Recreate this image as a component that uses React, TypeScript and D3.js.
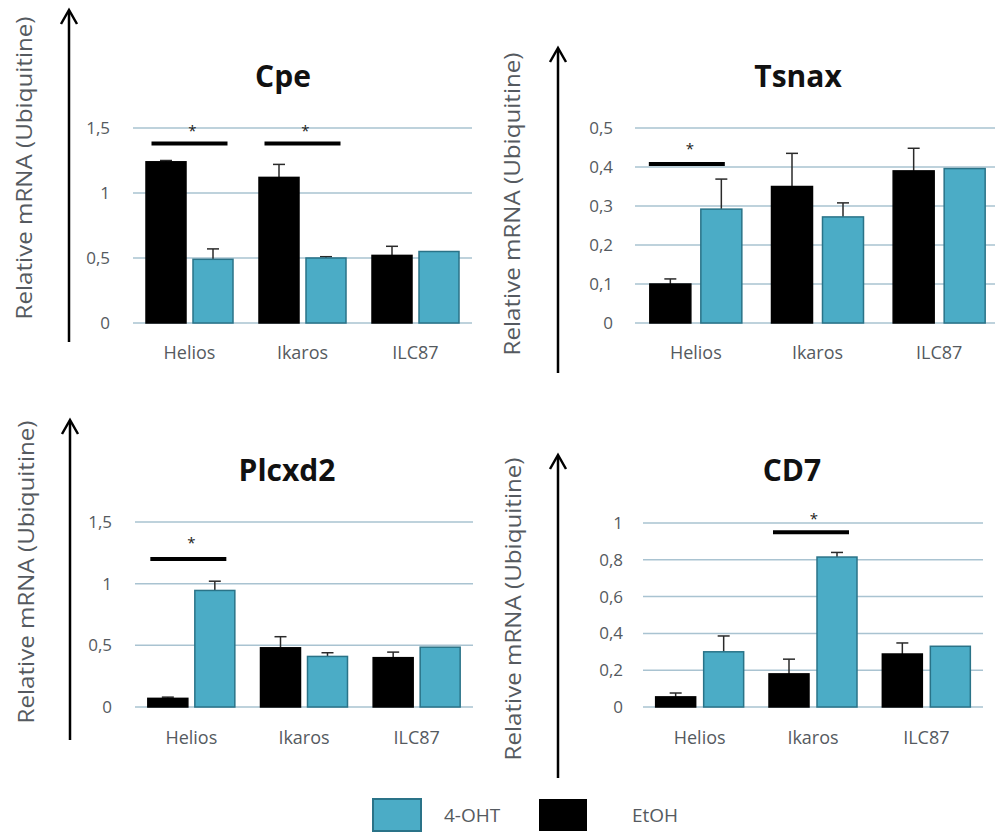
import React from "react";
import * as d3 from "d3";

// ---------- data ----------
const categories = ["Helios", "Ikaros", "ILC87"];
const legendNames = ["4-OHT", "EtOH"];

const cpeEtOH = [1.24, 1.12, 0.52];
const cpeEtOHErr = [0.01, 0.1, 0.07];
const cpeOHT = [0.49, 0.5, 0.55];
const cpeOHTErr = [0.08, 0.01, 0];
const cpeTicks = [0, 0.5, 1, 1.5];
const cpeSigCats = ["Helios", "Ikaros"];
const cpeSigLevels = [1.38, 1.5];

const tsnaxEtOH = [0.1, 0.35, 0.39];
const tsnaxEtOHErr = [0.013, 0.085, 0.058];
const tsnaxOHT = [0.292, 0.272, 0.396];
const tsnaxOHTErr = [0.077, 0.036, 0];
const tsnaxTicks = [0, 0.1, 0.2, 0.3, 0.4, 0.5];
const tsnaxSigCats = ["Helios"];
const tsnaxSigLevels = [0.408, 0.454];

const plcxd2EtOH = [0.07, 0.48, 0.4];
const plcxd2EtOHErr = [0.01, 0.09, 0.045];
const plcxd2OHT = [0.945, 0.41, 0.485];
const plcxd2OHTErr = [0.075, 0.03, 0];
const plcxd2Ticks = [0, 0.5, 1, 1.5];
const plcxd2SigCats = ["Helios"];
const plcxd2SigLevels = [1.2, 1.36];

const cd7EtOH = [0.055, 0.18, 0.288];
const cd7EtOHErr = [0.021, 0.08, 0.06];
const cd7OHT = [0.3, 0.815, 0.33];
const cd7OHTErr = [0.086, 0.025, 0];
const cd7Ticks = [0, 0.2, 0.4, 0.6, 0.8, 1];
const cd7SigCats = ["Ikaros"];
const cd7SigLevels = [0.95, 1.04];

// ---------- styles ----------
const FONT = "'Open Sans', 'DejaVu Sans', sans-serif";
const GRAY = "#555a60";
const CYAN = "#4bacc6";
const CYAN_EDGE = "#2a7388";
const GRID = "#a9c3d1";

type PanelProps = {
  title: string;
  etoh: number[];
  etohErr: number[];
  oht: number[];
  ohtErr: number[];
  ticks: number[];
  sigCats: string[];
  sigLevels: number[];
  L: {
    x0: number; x1: number; yZero: number; yTop: number;
    titleX: number; titleY: number;
    arrowX: number; arrowTop: number; arrowBottom: number;
    labelX: number; labelY: number;
    tickRight: number; catY: number;
    barW: number; gap: number; sigShift: number;
  };
};

const fmt = (v: number) => d3.format("~g")(v).replace(".", ",");

function Panel({ title, etoh, etohErr, oht, ohtErr, ticks, sigCats, sigLevels, L }: PanelProps) {
  const yMax = d3.max(ticks) as number;
  const y = d3.scaleLinear().domain([0, yMax]).range([L.yZero, L.yTop]);
  const x = d3.scaleBand<string>().domain(categories).range([L.x0, L.x1]).padding(0);
  const bw = x.bandwidth();
  const off = (bw - (2 * L.barW + L.gap)) / 2;
  const inner = d3
    .scaleOrdinal<string, number>()
    .domain(["EtOH", "4-OHT"])
    .range([off, off + L.barW + L.gap]);

  const series = [
    { key: "EtOH", vals: etoh, errs: etohErr, fill: "#000000", stroke: "#000000" },
    { key: "4-OHT", vals: oht, errs: ohtErr, fill: CYAN, stroke: CYAN_EDGE },
  ];

  return (
    <g>
      {ticks.map((t) => (
        <line key={"g" + t} x1={L.x0} x2={L.x1} y1={y(t)} y2={y(t)} stroke={GRID} strokeWidth={1.5} />
      ))}
      {ticks.map((t) => (
        <text key={"t" + t} x={L.tickRight} y={y(t)} dy="0.35em" textAnchor="end" fontSize={17} fill={GRAY} fontFamily={FONT}>
          {fmt(t)}
        </text>
      ))}
      {series.map((s) =>
        categories.map((c, i) => {
          const bx = (x(c) as number) + (inner(s.key) as number);
          const top = y(s.vals[i]);
          const cx = bx + L.barW / 2;
          const et = y(s.vals[i] + s.errs[i]);
          return (
            <g key={s.key + c}>
              {s.errs[i] > 0 && (
                <g stroke="#2a2a2a" strokeWidth={1.5}>
                  <line x1={cx} x2={cx} y1={top} y2={et} />
                  <line x1={cx - 6} x2={cx + 6} y1={et} y2={et} />
                </g>
              )}
              <rect x={bx} y={top} width={L.barW} height={L.yZero - top} fill={s.fill} stroke={s.stroke} strokeWidth={1.5} />
            </g>
          );
        })
      )}
      {sigCats.map((c) => {
        const cx = (x(c) as number) + bw / 2 + L.sigShift;
        return (
          <g key={"s" + c}>
            <line x1={cx - 38} x2={cx + 38} y1={y(sigLevels[0])} y2={y(sigLevels[0])} stroke="#000" strokeWidth={4} />
            <text x={cx + 3} y={y(sigLevels[1])} dy="0.55em" textAnchor="middle" fontSize={15} fill="#222" fontFamily={FONT}>
              *
            </text>
          </g>
        );
      })}
      {categories.map((c) => (
        <text key={"c" + c} x={(x(c) as number) + bw / 2} y={L.catY} dy="0.35em" textAnchor="middle" fontSize={18} fill={GRAY} fontFamily={FONT}>
          {c}
        </text>
      ))}
      <text x={L.titleX} y={L.titleY} textAnchor="middle" fontSize={30} fontWeight="bold" fill="#111" fontFamily={FONT}>
        {title}
      </text>
      <line x1={L.arrowX} x2={L.arrowX} y1={L.arrowBottom} y2={L.arrowTop + 1} stroke="#000" strokeWidth={2.5} />
      <path
        d={`M${L.arrowX - 8},${L.arrowTop + 14} L${L.arrowX},${L.arrowTop} L${L.arrowX + 8},${L.arrowTop + 14}`}
        fill="none"
        stroke="#000"
        strokeWidth={2.5}
      />
      <text
        transform={`translate(${L.labelX},${L.labelY}) rotate(-90)`}
        dy="0.35em"
        textAnchor="middle"
        fontSize={21}
        fill={GRAY}
        fontFamily={FONT}
        textLength={303}
        lengthAdjust="spacingAndGlyphs"
      >
        Relative  mRNA (Ubiquitine)
      </text>
    </g>
  );
}

export default function App() {
  return (
    <svg width={995} height={834} style={{ position: "absolute", left: 0, top: 0, background: "#fff" }}>
      <rect width={995} height={834} fill="#fff" />
      <Panel
        title="Cpe"
        etoh={cpeEtOH}
        etohErr={cpeEtOHErr}
        oht={cpeOHT}
        ohtErr={cpeOHTErr}
        ticks={cpeTicks}
        sigCats={cpeSigCats}
        sigLevels={cpeSigLevels}
        L={{ x0: 133, x1: 472, yZero: 323, yTop: 128, titleX: 283, titleY: 87, arrowX: 69, arrowTop: 10, arrowBottom: 342, labelX: 25, labelY: 168, tickRight: 110, catY: 353, barW: 40, gap: 7, sigShift: 0 }}
      />
      <Panel
        title="Tsnax"
        etoh={tsnaxEtOH}
        etohErr={tsnaxEtOHErr}
        oht={tsnaxOHT}
        ohtErr={tsnaxOHTErr}
        ticks={tsnaxTicks}
        sigCats={tsnaxSigCats}
        sigLevels={tsnaxSigLevels}
        L={{ x0: 635, x1: 1000, yZero: 323, yTop: 128, titleX: 798, titleY: 87, arrowX: 558, arrowTop: 48, arrowBottom: 373, labelX: 513, labelY: 204, tickRight: 613, catY: 353, barW: 41, gap: 10, sigShift: -9 }}
      />
      <Panel
        title="Plcxd2"
        etoh={plcxd2EtOH}
        etohErr={plcxd2EtOHErr}
        oht={plcxd2OHT}
        ohtErr={plcxd2OHTErr}
        ticks={plcxd2Ticks}
        sigCats={plcxd2SigCats}
        sigLevels={plcxd2SigLevels}
        L={{ x0: 135, x1: 473, yZero: 707, yTop: 522, titleX: 287, titleY: 481, arrowX: 70, arrowTop: 420, arrowBottom: 740, labelX: 27, labelY: 572, tickRight: 112, catY: 738, barW: 40, gap: 7, sigShift: -3 }}
      />
      <Panel
        title="CD7"
        etoh={cd7EtOH}
        etohErr={cd7EtOHErr}
        oht={cd7OHT}
        ohtErr={cd7OHTErr}
        ticks={cd7Ticks}
        sigCats={cd7SigCats}
        sigLevels={cd7SigLevels}
        L={{ x0: 643, x1: 983, yZero: 707, yTop: 523, titleX: 792, titleY: 481, arrowX: 558, arrowTop: 455, arrowBottom: 778, labelX: 514, labelY: 609, tickRight: 623, catY: 738, barW: 40, gap: 8, sigShift: -2 }}
      />
      <g fontFamily={FONT} fontSize={19} fill={GRAY}>
        <rect x={373} y={799} width={48} height={32} fill={CYAN} stroke={CYAN_EDGE} strokeWidth={2} />
        <text x={444} y={815} dy="0.35em">{legendNames[0]}</text>
        <rect x={539} y={799} width={48} height={32} fill="#000" />
        <text x={632} y={815} dy="0.35em">{legendNames[1]}</text>
      </g>
    </svg>
  );
}
